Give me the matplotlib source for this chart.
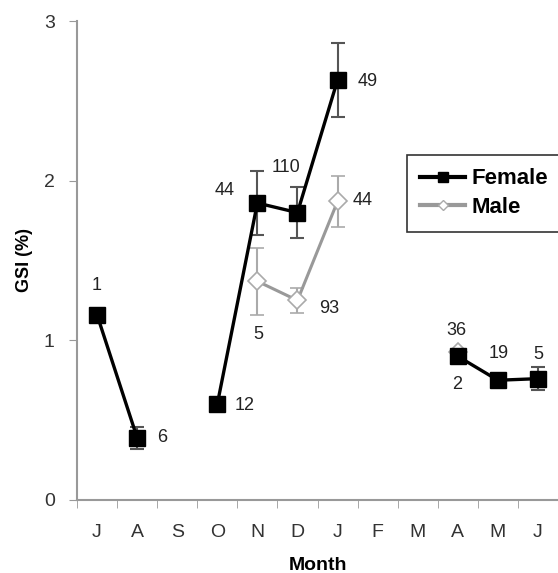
import numpy as np
import matplotlib.pyplot as plt
from matplotlib.lines import Line2D

plt.rcParams['font.family'] = ['Liberation Sans', 'DejaVu Sans']

months = ['J', 'A', 'S', 'O', 'N', 'D', 'J', 'F', 'M', 'A', 'M', 'J']
female = [1.16, 0.39, np.nan, 0.60, 1.86, 1.80, 2.63, np.nan, np.nan, 0.90, 0.75, 0.76]
female_err = [0, 0.07, 0, 0, 0.20, 0.16, 0.23, 0, 0, 0, 0, 0.07]
male = [np.nan, np.nan, np.nan, np.nan, 1.37, 1.25, 1.87, np.nan, np.nan, 0.93, np.nan, np.nan]
male_err = [0, 0, 0, 0, 0.21, 0.08, 0.16, 0, 0, 0, 0, 0]

# sample sizes: (month index, label, offset in pixels)
female_n = [(0, '1', (0, 29)), (1, '6', (25, 0)), (3, '12', (27, -1)),
            (4, '44', (-33, 13)), (5, '110', (-11, 45)), (6, '49', (30, -1)),
            (9, '36', (-1, 26)), (10, '19', (1, 27)), (11, '5', (0, 24))]
male_n = [(4, '5', (1, -53)), (5, '93', (32, -8)), (6, '44', (25, 1)),
          (9, '2', (-1, -33))]

x = np.arange(len(months))

fig = plt.figure(figsize=(5.58, 5.73), dpi=100)
ax = fig.add_axes([77 / 558, 73 / 573, 481 / 558, 479 / 573])

ax.errorbar(x, male, yerr=male_err, color='#999999', lw=2.2, ecolor='#aaaaaa',
            elinewidth=1.5, capsize=5, capthick=1.5, marker='D', markersize=9,
            markerfacecolor='white', markeredgecolor='#aaaaaa', markeredgewidth=1.2,
            zorder=2)
ax.errorbar(x, female, yerr=female_err, color='black', lw=2.4, ecolor='#555555',
            elinewidth=1.5, capsize=5, capthick=1.5, marker='s', markersize=12,
            zorder=3)

for i, t, off in female_n:
    ax.annotate(t, (x[i], female[i]), xytext=off, textcoords='offset pixels',
                ha='center', va='center', fontsize=13, color='#222222')
for i, t, off in male_n:
    ax.annotate(t, (x[i], male[i]), xytext=off, textcoords='offset pixels',
                ha='center', va='center', fontsize=13, color='#222222')

ax.set_xlim(-0.5, 11.5)
ax.set_ylim(0, 3)
ax.set_yticks([0, 1, 2, 3])
ax.set_xticks(x)
ax.set_xticklabels(months)
ax.set_xticks(np.arange(-0.5, 12, 1), minor=True)
ax.tick_params(axis='x', which='major', length=0, pad=17, labelsize=14, labelcolor='#333333')
ax.tick_params(axis='x', which='minor', length=6, color='#999999', direction='out')
ax.tick_params(axis='y', length=6, color='#999999', labelsize=14, labelcolor='#333333', pad=10)

for s in ['top', 'right']:
    ax.spines[s].set_visible(False)
for s in ['left', 'bottom']:
    ax.spines[s].set_color('#999999')
    ax.spines[s].set_linewidth(1.5)

ax.set_xlabel('Month', fontsize=14, fontweight='bold')
ax.xaxis.set_label_coords(0.5, -0.118)
ax.set_ylabel('GSI (%)', fontsize=13, fontweight='bold', labelpad=8)

handles = [Line2D([], [], color='black', lw=3, marker='s', markersize=7),
           Line2D([], [], color='#999999', lw=3, marker='D', markersize=5,
                  markerfacecolor='white', markeredgecolor='#aaaaaa')]
leg = ax.legend(handles, ['Female', 'Male'], loc='upper left', bbox_to_anchor=(0.686, 0.72),
                prop={'weight': 'bold', 'size': 16}, frameon=True, fancybox=False,
                edgecolor='black', handlelength=2.0, handletextpad=0.3,
                borderpad=0.6, labelspacing=0.35, borderaxespad=0)
leg.get_frame().set_linewidth(1.2)

fig.savefig('out.png', dpi=100)
